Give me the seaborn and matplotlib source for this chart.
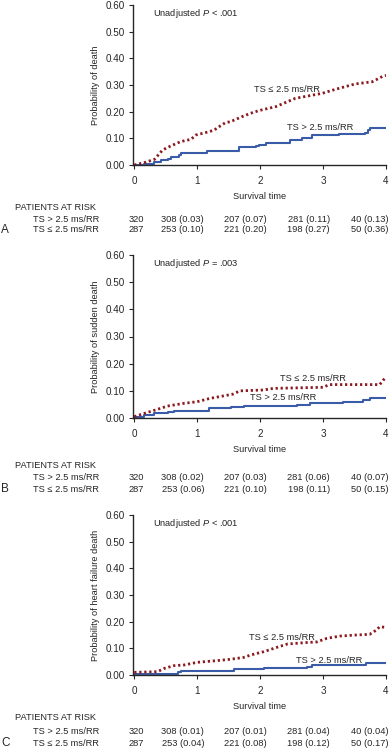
import numpy as np
import pandas as pd
import matplotlib
matplotlib.use("Agg")
import matplotlib.pyplot as plt
import matplotlib.transforms as mtransforms
import seaborn as sns

# ---- data (cumulative probability) ----
# Panel A: all-cause death
a_hi_t = [0, 0.16, 0.32, 0.43, 0.53, 0.58, 0.71, 0.74, 1.08, 1.16, 1.53, 1.66, 1.85, 1.93, 1.98, 2.09, 2.46, 2.48, 2.64, 2.67, 2.8, 2.83, 3.25, 3.67, 3.72, 3.75, 4.0]
a_hi_p = [0, 0.004, 0.0125, 0.019, 0.021, 0.031, 0.0375, 0.044, 0.044, 0.0525, 0.0525, 0.066, 0.066, 0.071, 0.075, 0.081, 0.084, 0.094, 0.094, 0.1, 0.1, 0.1125, 0.116, 0.119, 0.131, 0.138, 0.138]
a_lo_t = [0, 0.16, 0.32, 0.45, 0.53, 0.74, 0.9, 0.98, 1.19, 1.27, 1.35, 1.45, 1.53, 1.74, 1.85, 1.98, 2.25, 2.56, 2.99, 3.2, 3.51, 3.78, 3.96, 4.0]
a_lo_p = [0, 0.009, 0.021, 0.056, 0.066, 0.088, 0.096, 0.1125, 0.125, 0.131, 0.144, 0.159, 0.1625, 0.184, 0.194, 0.204, 0.219, 0.25, 0.269, 0.284, 0.304, 0.312, 0.334, 0.336]

# Panel B: sudden death
b_hi_t = [0, 0.16, 0.32, 0.53, 0.63, 1.13, 1.19, 1.53, 1.74, 2.58, 2.79, 3.32, 3.63, 3.74, 4.0]
b_hi_p = [0.002, 0.011, 0.017, 0.021, 0.026, 0.026, 0.036, 0.039, 0.044, 0.048, 0.054, 0.059, 0.066, 0.072, 0.072]
b_lo_t = [0, 0.16, 0.37, 0.53, 0.79, 1.0, 1.1, 1.2, 1.41, 1.57, 1.68, 2.05, 2.21, 3.0, 3.1, 3.9, 4.0]
b_lo_p = [0.005, 0.017, 0.032, 0.044, 0.054, 0.06, 0.066, 0.072, 0.081, 0.088, 0.1, 0.103, 0.109, 0.113, 0.123, 0.123, 0.152]

# Panel C: heart failure death
c_hi_t = [0, 0.53, 0.69, 0.74, 1.53, 1.58, 2.0, 2.06, 2.43, 2.74, 2.82, 3.63, 3.69, 4.0]
c_hi_p = [0.0025, 0.0025, 0.0125, 0.015, 0.015, 0.021, 0.021, 0.025, 0.0275, 0.031, 0.0375, 0.0375, 0.046, 0.046]
c_lo_t = [0, 0.37, 0.48, 0.63, 0.79, 1.0, 1.32, 1.53, 1.74, 1.85, 2.06, 2.27, 2.43, 2.69, 2.9, 3.06, 3.27, 3.53, 3.74, 3.85, 3.9, 3.98]
c_lo_p = [0.01, 0.0125, 0.025, 0.035, 0.0375, 0.0475, 0.054, 0.059, 0.066, 0.075, 0.0875, 0.104, 0.116, 0.121, 0.124, 0.1375, 0.146, 0.15, 0.1525, 0.169, 0.181, 0.179]

ylabels = ["Probability of death", "Probability of sudden death", "Probability of heart failure death"]
pvalues = ["Unadjusted $P$ < .001", "Unadjusted $P$ = .003", "Unadjusted $P$ < .001"]
panel_letters = ["A", "B", "C"]
groups = ["TS > 2.5 ms/RR", "TS \u2264 2.5 ms/RR"]

risk_hi = [
    ["320", "308 (0.03)", "207 (0.07)", "281 (0.11)", "40 (0.13)"],
    ["320", "308 (0.02)", "207 (0.03)", "281 (0.06)", "40 (0.07)"],
    ["320", "308 (0.01)", "207 (0.01)", "281 (0.04)", "40 (0.04)"],
]
risk_lo = [
    ["287", "253 (0.10)", "221 (0.20)", "198 (0.27)", "50 (0.36)"],
    ["287", "253 (0.06)", "221 (0.10)", "198 (0.11)", "50 (0.15)"],
    ["287", "253 (0.04)", "221 (0.08)", "198 (0.12)", "50 (0.17)"],
]
times = [0, 1, 2, 3, 4]

curves = [
    (a_hi_t, a_hi_p, a_lo_t, a_lo_p),
    (b_hi_t, b_hi_p, b_lo_t, b_lo_p),
    (c_hi_t, c_hi_p, c_lo_t, c_lo_p),
]

# ---- layout (pixels from top of a 392x750 canvas) ----
W, H = 392, 750
panels = [
    dict(y0=165, y1=5, rows=(207, 219, 230), lo_lab=(1.9, 0.285), hi_lab=(2.42, 0.139)),
    dict(y0=418, y1=255, rows=(465, 477, 489), lo_lab=(2.32, 0.144), hi_lab=(1.84, 0.074)),
    dict(y0=675, y1=515, rows=(718, 732, 743), lo_lab=(1.83, 0.1425), hi_lab=(2.57, 0.056)),
]
col_offset = [0.15, 0.11, 0.11, 0.11, 0.04]

sns.set_style("ticks")
plt.rcParams["font.family"] = ["Liberation Sans", "DejaVu Sans"]
plt.rcParams["mathtext.fontset"] = "custom"
plt.rcParams["mathtext.it"] = "Liberation Sans:italic"
plt.rcParams["mathtext.rm"] = "Liberation Sans"

blue = "#3a5ca8"
red = "#8b1a1f"
fs = 6.7

fig = plt.figure(figsize=(W / 100, H / 100), dpi=100)

for i, pan in enumerate(panels):
    left = 133 / W
    right = 386 / W
    bottom = 1 - pan["y0"] / H
    height = (pan["y0"] - pan["y1"]) / H
    ax = fig.add_axes([left, bottom, right - left, height])

    hi_t, hi_p, lo_t, lo_p = curves[i]
    df_hi = pd.DataFrame({"t": hi_t, "p": hi_p})
    df_lo = pd.DataFrame({"t": lo_t, "p": lo_p})
    sns.lineplot(data=df_hi, x="t", y="p", ax=ax, color=blue, linewidth=1.5,
                 drawstyle="steps-post", estimator=None, sort=False)
    sns.lineplot(data=df_lo, x="t", y="p", ax=ax, color=red, linewidth=2.0,
                 linestyle=(0, (0.8, 1.0)), estimator=None, sort=False)

    ax.set_xlim(-0.02, 4.0)
    ax.set_ylim(0, 0.6)
    ax.set_xticks(times)
    ax.set_yticks(np.arange(0, 0.61, 0.1))
    ax.set_yticklabels([f"{v:.2f}" for v in np.arange(0, 0.61, 0.1)])
    ax.tick_params(labelsize=7.1, length=3, width=0.8)
    ax.tick_params(axis="x", pad=5)
    ax.tick_params(axis="y", pad=3)
    ax.set_xlabel("Survival time", fontsize=fs, labelpad=4)
    ax.set_ylabel(ylabels[i], fontsize=fs, labelpad=4)
    sns.despine(ax=ax)
    for s in ["left", "bottom"]:
        ax.spines[s].set_linewidth(1.0)

    ax.text(0.3, 0.57, pvalues[i], fontsize=fs, va="center")
    ax.text(pan["lo_lab"][0], pan["lo_lab"][1], groups[1], fontsize=fs, va="center")
    ax.text(pan["hi_lab"][0], pan["hi_lab"][1], groups[0], fontsize=fs, va="center")

    # patients at risk table
    trans = mtransforms.blended_transform_factory(ax.transData, fig.transFigure)
    yh, yr1, yr2 = [1 - y / H for y in pan["rows"]]
    fig.text(15 / W, yh, "PATIENTS AT RISK", fontsize=fs, va="center")
    fig.text(99 / W, yr1, groups[0], fontsize=fs, va="center", ha="right")
    fig.text(99 / W, yr2, groups[1], fontsize=fs, va="center", ha="right")
    fig.text(1 / W, yr2, panel_letters[i], fontsize=8.5, va="center")
    for j, t in enumerate(times):
        ax.text(t + col_offset[j], yr1, risk_hi[i][j], transform=trans,
                fontsize=fs, va="center", ha="right")
        ax.text(t + col_offset[j], yr2, risk_lo[i][j], transform=trans,
                fontsize=fs, va="center", ha="right")

fig.savefig("out.png", dpi=100)
